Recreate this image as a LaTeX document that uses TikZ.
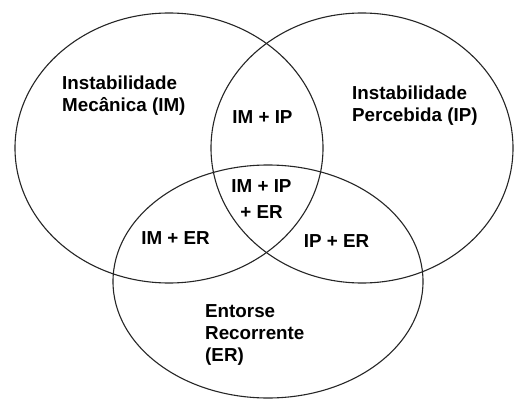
\documentclass[tikz,border=0pt]{standalone}
\usepackage{fontspec}
\setmainfont{Liberation Sans}
\begin{document}
\begin{tikzpicture}[x=1pt,y=-1pt,
  setring/.style={draw=black!85,line width=1.1pt},
  lbl/.style={inner sep=0pt,font={\bfseries\fontsize{18.8}{22}\selectfont}},
  lblc/.style={lbl,align=center},
  lbll/.style={lbl,align=left,anchor=north west}]
\fill[white] (0,0) rectangle (515,399);
\useasboundingbox (0,0) rectangle (515,399);
% sets
\draw[setring] (169,148) ellipse [x radius=154pt, y radius=135pt];
\draw[setring] (362,148) ellipse [x radius=151pt, y radius=135pt];
\draw[setring] (268,281.5) ellipse [x radius=155pt, y radius=116.5pt];
% labels
\node[lbll] (im) at (62,75.5) {Instabilidade\\Mecânica (IM)};
\node[lbll] (ip) at (352,85.5) {Instabilidade\\Percebida (IP)};
\node[lbl,anchor=base] (imip) at (262.5,123) {IM + IP};
\node[lblc,anchor=north,font={\bfseries\fontsize{18.8}{26}\selectfont}] (all) at (261.5,179.5) {IM + IP\\+ ER};
\node[lbl,anchor=base] (imer) at (175.5,244) {IM + ER};
\node[lbl,anchor=base] (iper) at (336.5,247) {IP + ER};
\node[lbll] (er) at (205,304.5) {Entorse\\Recorrente\\(ER)};
\end{tikzpicture}
\end{document}
